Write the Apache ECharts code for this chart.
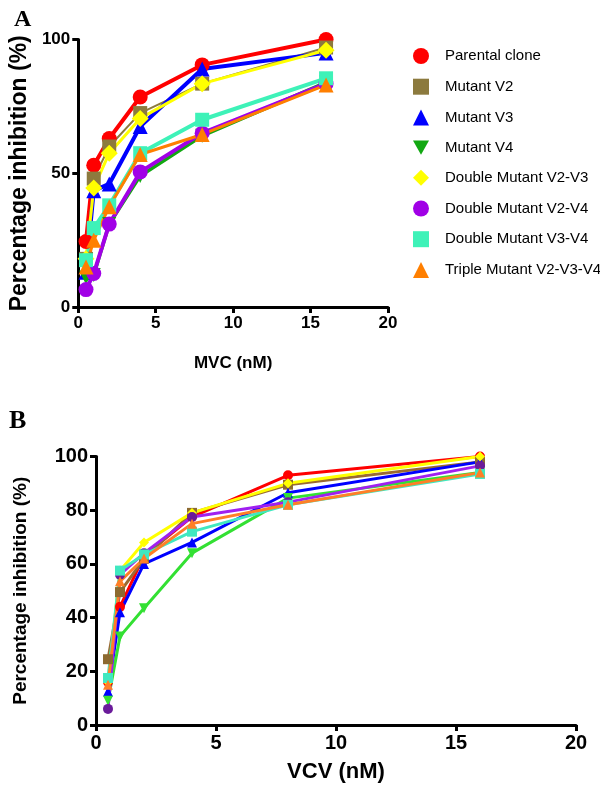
<!DOCTYPE html>
<html>
<head>
<meta charset="utf-8">
<script src="https://cdn.jsdelivr.net/npm/echarts@6/dist/echarts.min.js"></script>
<style>
  html, body { margin: 0; padding: 0; background: #fff; }
  #chart { width: 600px; height: 786px; }
</style>
</head>
<body>
<div id="chart"></div>
<script>
// doses (nM)
const doses = [0.5, 1, 2, 4, 8, 16];

const names = [
  'Parental clone',
  'Mutant V2',
  'Mutant V3',
  'Mutant V4',
  'Double Mutant V2-V3',
  'Double Mutant V2-V4',
  'Double Mutant V3-V4',
  'Triple Mutant V2-V3-V4',
];

// panel A: MVC
const parentalA = [24.5, 53, 63, 78.5, 90.5, 100];
const v2A = [18, 48, 60, 72.5, 83.5, 97];
const v3A = [13, 43.5, 46, 67.5, 89, 95];
const v4A = [11, 12, 31, 49, 64, 84];
const dv23A = [18, 44.5, 57.5, 70.5, 83.5, 96];
const dv24A = [6.5, 12.5, 31, 50.5, 65, 83.5];
const dv34A = [17.5, 29.5, 38, 57.5, 70, 85.5];
const tripleA = [15, 25, 37.5, 57, 64.5, 83];

// panel B: VCV
const parentalB = [16, 44, 63, 77.5, 93, 100];
const v2B = [24.5, 49.5, 62, 79, 89.5, 98];
const v3B = [12.5, 42, 60, 68, 86.5, 98];
const v4B = [9, 33, 43.5, 64, 84.5, 94];
const dv23B = [16, 57.5, 68, 79, 90, 100];
const dv24B = [6, 56, 64, 77.5, 83, 96.5];
const dv34B = [17.5, 57.5, 63.5, 72, 82, 93.5];
const tripleB = [15, 53.5, 62, 75, 82, 94];

const xTicksA = [0, 20, 5];
const yTicksA = [0, 100, 50];
const xTicksB = [0, 20, 5];
const yTicksB = [0, 100, 20];

const downTri = 'path://M0,0 L10,0 L5,9 Z';
const symbols = ['circle', 'rect', 'triangle', downTri, 'diamond', 'circle', 'rect', 'triangle'];
const colorsA = ['#ff0000', '#8c7a3e', '#0000ff', '#12a812', '#ffff00', '#a100e6', '#3ef2b8', '#ff7f00'];
const lineColorsB = ['#ff0000', '#9a6a32', '#0000ff', '#33e033', '#ffff00', '#a020f0', '#40e8c0', '#ff7f27'];
const markColorsB = ['#ff0000', '#8c6a30', '#0000ff', '#33e033', '#ffff00', '#6a1b9a', '#40e8c0', '#ff7f27'];
const lineWidthA = [4, 2, 4, 3.5, 3, 4, 4, 3];
const symbolSizeA = [15, 14, 15, 14, 17, 15, 14, 15];

const dataA = [parentalA, v2A, v3A, v4A, dv23A, dv24A, dv34A, tripleA];
const dataB = [parentalB, v2B, v3B, v4B, dv23B, dv24B, dv34B, tripleB];

const font = "'Liberation Sans', Arial, sans-serif";

function pairs(values) {
  return doses.map((d, i) => [d, values[i]]);
}

function axisStyle(size) {
  return {
    axisLine: { show: true, onZero: false, lineStyle: { color: '#000', width: 3 } },
    axisTick: { show: true, length: 6, lineStyle: { color: '#000', width: 3 } },
    splitLine: { show: false },
    axisLabel: { color: '#000', fontSize: size, fontWeight: 'bold', fontFamily: font },
  };
}

const series = [];
names.forEach((name, i) => {
  series.push({
    type: 'line',
    name: name,
    xAxisIndex: 0,
    yAxisIndex: 0,
    data: pairs(dataA[i]),
    symbol: symbols[i],
    symbolSize: symbolSizeA[i],
    showAllSymbol: true,
    itemStyle: { color: colorsA[i] },
    lineStyle: { color: colorsA[i], width: lineWidthA[i] },
  });
});
names.forEach((name, i) => {
  series.push({
    type: 'line',
    name: name,
    xAxisIndex: 1,
    yAxisIndex: 1,
    data: pairs(dataB[i]),
    symbol: symbols[i],
    symbolSize: 10,
    showAllSymbol: true,
    itemStyle: { color: markColorsB[i] },
    lineStyle: { color: lineColorsB[i], width: 3 },
  });
});

const chart = echarts.init(document.getElementById('chart'));
chart.setOption({
  animation: false,
  backgroundColor: '#fff',
  title: [
    {
      text: 'A', left: 9, top: 3,
      textStyle: { fontFamily: "'Liberation Serif', serif", fontWeight: 'bold', fontSize: 24, color: '#000' },
    },
    {
      text: 'B', left: 4, top: 403,
      textStyle: { fontFamily: "'Liberation Serif', serif", fontWeight: 'bold', fontSize: 26, color: '#000' },
    },
  ],
  legend: {
    orient: 'vertical',
    left: 413,
    top: 48,
    padding: 0,
    itemWidth: 16,
    itemHeight: 16,
    itemGap: 14.7,
    textStyle: { fontSize: 15, color: '#000', fontFamily: font, padding: [0, 0, 0, 11] },
    data: names.map((n, i) => ({ name: n, icon: symbols[i] })),
  },
  grid: [
    { left: 72, top: 39.5, width: 316, height: 267.5 },
    { left: 96, top: 456.5, width: 480, height: 268.5 },
  ],
  xAxis: [
    Object.assign(axisStyle(17), {
      type: 'value', gridIndex: 0,
      min: xTicksA[0], max: xTicksA[1], interval: xTicksA[2],
      name: 'MVC (nM)', nameLocation: 'middle', nameGap: 48,
      nameTextStyle: { fontSize: 17, fontWeight: 'bold', color: '#000', fontFamily: font },
    }),
    Object.assign(axisStyle(20), {
      type: 'value', gridIndex: 1,
      min: xTicksB[0], max: xTicksB[1], interval: xTicksB[2],
      name: 'VCV (nM)', nameLocation: 'middle', nameGap: 36,
      nameTextStyle: { fontSize: 22, fontWeight: 'bold', color: '#000', fontFamily: font },
    }),
  ],
  yAxis: [
    Object.assign(axisStyle(17), {
      type: 'value', gridIndex: 0,
      min: yTicksA[0], max: yTicksA[1], interval: yTicksA[2],
      name: 'Percentage inhibition (%)', nameLocation: 'middle', nameGap: 40,
      nameTextStyle: { fontSize: 23, fontWeight: 'bold', color: '#000', fontFamily: font },
    }),
    Object.assign(axisStyle(20), {
      type: 'value', gridIndex: 1,
      min: yTicksB[0], max: yTicksB[1], interval: yTicksB[2],
      name: 'Percentage inhibition (%)', nameLocation: 'middle', nameGap: 66,
      nameTextStyle: { fontSize: 19, fontWeight: 'bold', color: '#000', fontFamily: font },
    }),
  ],
  series: series,
});
</script>
</body>
</html>
